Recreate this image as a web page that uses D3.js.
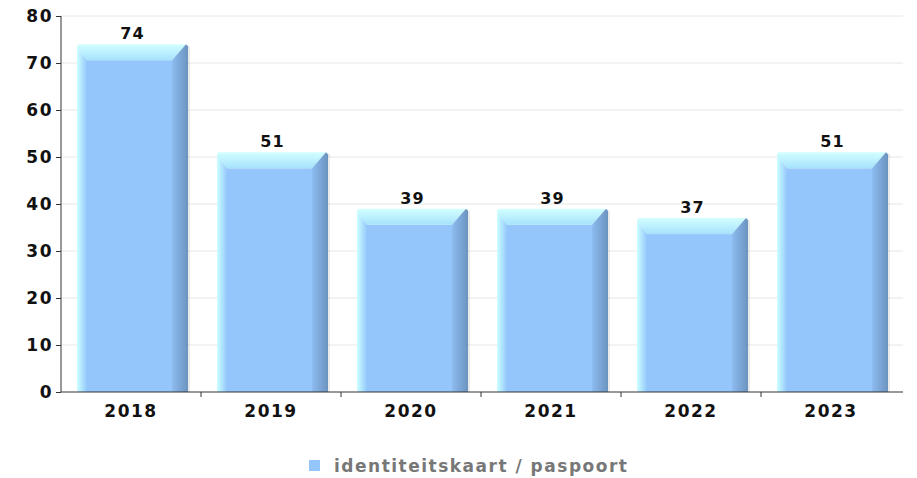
<!DOCTYPE html>
<html><head><meta charset="utf-8">
<script src="https://cdn.jsdelivr.net/npm/d3@7"></script>
<style>body{margin:0;background:#fff}svg{display:block}</style>
</head><body>
<script>
const categories = ["2018","2019","2020","2021","2022","2023"];
const values = [74,51,39,39,37,51];
const yTicks = [0,10,20,30,40,50,60,70,80];
const seriesName = "identiteitskaart / paspoort";

const W=917,H=478;
const svg=d3.select("body").append("svg").attr("width",W).attr("height",H);
const xb=d3.scaleBand().domain(categories).range([61,901]);
const y=d3.scaleLinear().domain([0,80]).range([392,16]);
const font="'DejaVu Sans', Verdana, sans-serif";

const defs=svg.append("defs");
const gTop=defs.append("linearGradient").attr("id","gTop").attr("x1",0).attr("y1",0).attr("x2",0).attr("y2",1);
gTop.append("stop").attr("offset",0).attr("stop-color","#d2ffff");
gTop.append("stop").attr("offset",1).attr("stop-color","#a6e2fc");
const gL=defs.append("linearGradient").attr("id","gL").attr("x1",0).attr("y1",0).attr("x2",1).attr("y2",0);
gL.append("stop").attr("offset",0).attr("stop-color","#ccffff");
gL.append("stop").attr("offset",1).attr("stop-color","#95c8fb");
const gR=defs.append("linearGradient").attr("id","gR").attr("x1",0).attr("y1",0).attr("x2",1).attr("y2",0);
gR.append("stop").attr("offset",0).attr("stop-color","#8dbcf0");
gR.append("stop").attr("offset",1).attr("stop-color","#6b93bf");

// grid
svg.append("g").selectAll("line").data(yTicks.filter(d=>d>0)).join("line")
  .attr("x1",61).attr("x2",903).attr("y1",d=>y(d)).attr("y2",d=>y(d))
  .attr("stroke","#e6e6e6").attr("stroke-width",1);

// bars
const bw=111, bl=10, br=16, bt=16;
const bars=svg.append("g").selectAll("g").data(categories).join("g");
bars.each(function(c,i){
  const g=d3.select(this);
  const x0=xb(c)+16, x1=x0+bw, yt=y(values[i]), yb=y(0);
  const inset=Math.min(bt, (yb-yt));
  g.append("rect").attr("x",x1).attr("y",yt+2).attr("width",2).attr("height",yb-yt-2).attr("fill","#000").attr("opacity",0.08);
  g.append("rect").attr("x",x0+bl).attr("y",yt+inset).attr("width",bw-bl-br).attr("height",yb-yt-inset).attr("fill","#94c5fb");
  g.append("path").attr("d",`M${x0},${yt+3}Q${x0},${yt} ${x0+3},${yt}L${x1-2},${yt}L${x1-br},${yt+inset}L${x0+bl},${yt+inset}Z`).attr("fill","url(#gTop)");
  g.append("path").attr("d",`M${x0},${yt+3}L${x0+bl},${yt+inset}L${x0+bl},${yb}L${x0},${yb}Z`).attr("fill","url(#gL)");
  g.append("path").attr("d",`M${x1-2},${yt}L${x1},${yt+2}L${x1},${yb}L${x1-br},${yb}L${x1-br},${yt+inset}Z`).attr("fill","url(#gR)");
  g.append("text").attr("x",(x0+x1)/2).attr("y",yt-5).attr("text-anchor","middle")
    .attr("font-family",font).attr("font-weight","bold").attr("font-size",16).attr("letter-spacing","1px").attr("fill","#111").text(values[i]);
});

// axes
const ya=svg.append("g").attr("transform","translate(61,0)").call(d3.axisLeft(y).tickValues(yTicks).tickSize(5).tickPadding(3));
ya.select(".domain").attr("stroke","#333").attr("d","M0,392V16");
ya.selectAll(".tick line").attr("stroke","#333");
ya.selectAll("text").attr("font-family",font).attr("font-weight","bold").attr("font-size",17).attr("letter-spacing","1.5px").attr("fill","#111");

const xa=svg.append("g").attr("transform","translate(0,392)");
xa.append("line").attr("x1",61).attr("x2",903).attr("stroke","#333");
xa.selectAll(".tk").data(categories.slice(1)).join("line").attr("x1",d=>xb(d)).attr("x2",d=>xb(d)).attr("y1",0).attr("y2",5).attr("stroke","#333");
xa.selectAll("text").data(categories).join("text").attr("x",d=>xb(d)+xb.bandwidth()/2).attr("y",25)
  .attr("text-anchor","middle").attr("font-family",font).attr("font-weight","bold").attr("font-size",17).attr("letter-spacing","1.5px").attr("fill","#111").text(d=>d);

// legend
const lg=svg.append("g");
lg.append("rect").attr("x",309).attr("y",460).attr("width",11).attr("height",11).attr("fill","#94c5fb");
lg.append("text").attr("x",334).attr("y",472).attr("font-family",font).attr("font-weight","bold").attr("font-size",17).attr("letter-spacing","1.5px").attr("fill","#777").text(seriesName);
</script>
</body></html>
